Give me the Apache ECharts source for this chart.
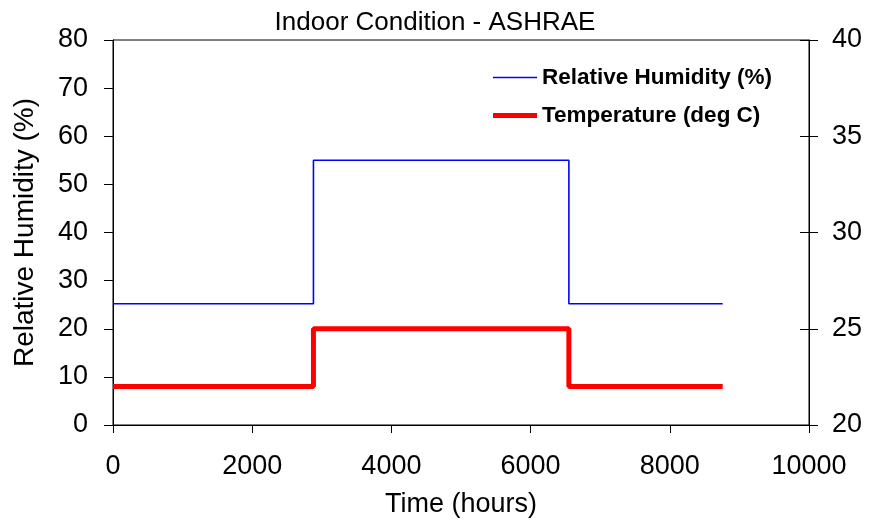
<!DOCTYPE html>
<html><head><meta charset="utf-8">
<script src="https://cdn.jsdelivr.net/npm/echarts@6/dist/echarts.min.js"></script>
<style>html,body{margin:0;padding:0;background:#fff}#c{width:870px;height:523px}</style>
</head><body><div id="c"></div>
<script>
const hours = [0, 2880, 6550, 8760];
const rhValues = [25.2, 55, 25.2, 25.2];
const tempValues = [22, 25, 22, 22];
const rhTicks = [0, 10, 20, 30, 40, 50, 60, 70, 80];
const tempTicks = [20, 25, 30, 35, 40];
const xTicks = [0, 2000, 4000, 6000, 8000, 10000];

const font = 'Liberation Sans, Arial, sans-serif';
const chart = echarts.init(document.getElementById('c'));
chart.setOption({
  backgroundColor: '#fff',
  animation: false,
  title: {text: 'Indoor Condition - ASHRAE', left: 'center', top: 5,
    textStyle: {fontFamily: font, fontSize: 26, fontWeight: 'normal', color: '#000'}},
  legend: {
    left: 488, top: 61, orient: 'vertical', itemGap: 15, itemWidth: 44, itemHeight: 22,
    symbolKeepAspect: true,
    textStyle: {fontFamily: font, fontSize: 22.5, fontWeight: 'bold', color: '#000'},
    data: [
      {name: 'Relative Humidity (%)', icon: 'path://M0,0h44v1.6h-44z', itemStyle: {color: '#0000ff'}},
      {name: 'Temperature (deg C)', icon: 'path://M0,0h44v5h-44z', itemStyle: {color: '#ff0000'}}
    ]
  },
  grid: {left: 113, right: 61, top: 40, bottom: 98, show: true, borderColor: '#000', borderWidth: 1},
  xAxis: {
    type: 'value', min: xTicks[0], max: xTicks[xTicks.length - 1], interval: xTicks[1] - xTicks[0],
    name: 'Time (hours)', nameLocation: 'middle', nameGap: 66,
    nameTextStyle: {fontFamily: font, fontSize: 27, color: '#000'},
    axisLine: {show: true, lineStyle: {color: '#000'}},
    axisTick: {show: true, inside: false, length: 8, lineStyle: {color: '#000'}},
    axisLabel: {fontFamily: font, fontSize: 27, color: '#000', margin: 28, formatter: v => String(v)},
    splitLine: {show: false}
  },
  yAxis: [
    {type: 'value', min: rhTicks[0], max: rhTicks[rhTicks.length - 1], interval: rhTicks[1] - rhTicks[0], position: 'left',
     name: 'Relative Humidity (%)', nameLocation: 'middle', nameGap: 74, nameRotate: 90,
     nameTextStyle: {fontFamily: font, fontSize: 28, color: '#000'},
     axisLine: {show: true, lineStyle: {color: '#000'}},
     axisTick: {show: true, length: 9, lineStyle: {color: '#000'}},
     axisLabel: {fontFamily: font, fontSize: 27, color: '#000', margin: 25},
     splitLine: {show: false}},
    {type: 'value', min: tempTicks[0], max: tempTicks[tempTicks.length - 1], interval: tempTicks[1] - tempTicks[0], position: 'right',
     axisLine: {show: true, lineStyle: {color: '#000'}},
     axisTick: {show: true, length: 9, lineStyle: {color: '#000'}},
     axisLabel: {fontFamily: font, fontSize: 27, color: '#000', margin: 23},
     splitLine: {show: false}}
  ],
  series: [
    {name: 'Relative Humidity (%)', type: 'line', step: 'end', yAxisIndex: 0, symbol: 'none',
     lineStyle: {color: '#0000ff', width: 1.6}, itemStyle: {color: '#0000ff'},
     data: hours.map((h, i) => [h, rhValues[i]])},
    {name: 'Temperature (deg C)', type: 'line', step: 'end', yAxisIndex: 1, symbol: 'none',
     lineStyle: {color: '#ff0000', width: 5}, itemStyle: {color: '#ff0000'},
     data: hours.map((h, i) => [h, tempValues[i]])},
    {type: 'line', yAxisIndex: 1, symbol: 'none', silent: true, data: [],
     markLine: {silent: true, symbol: 'none', label: {show: false},
       lineStyle: {color: '#000', width: 1, type: 'solid'},
       data: tempTicks.map(v => [{coord: [10000, v], x: 800}, {coord: [10000, v], x: 809}])}}
  ]
});
</script></body></html>
